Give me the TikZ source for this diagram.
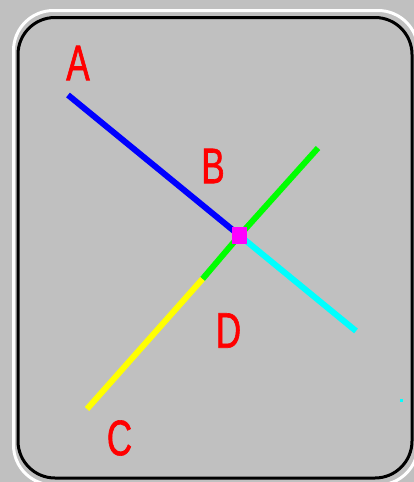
\documentclass[tikz,border=0pt]{standalone}
\usepackage{fontspec}
\usepackage{xcolor}
\usepackage{tikz}
\usetikzlibrary{positioning}
\newfontfamily\lblfont[FakeStretch=0.7,FakeBold=1.2]{Liberation Sans}
\definecolor{winGray}{HTML}{C0C0C0}
\definecolor{winBlue}{HTML}{0000FF}
\definecolor{winCyan}{HTML}{00FFFF}
\definecolor{winGreen}{HTML}{00FF00}
\definecolor{winYellow}{HTML}{FFFF00}
\definecolor{winRed}{HTML}{FF0000}
\definecolor{winMagenta}{HTML}{FF00FF}
\tikzset{
  ptlabel/.style={text=winRed,inner sep=0pt,font=\lblfont\fontsize{50}{50}\selectfont},
  seg/.style={line width=6pt,line cap=butt}
}

\begin{document}
\begin{tikzpicture}[x=1pt,y=-1pt,line width=3pt]
    \fill[winGray] (0,0) rectangle (414,482);
    \useasboundingbox (0,0) rectangle (414,482);
    \draw[white,rounded corners=40pt] (13.5,10.5) rectangle (418,485);
    \draw[black,rounded corners=37pt] (18,17.5) rectangle (412,478);
    % end points
    \coordinate (blueEnd) at (68,95);
    \coordinate (cyanEnd) at (356,331);
    \coordinate (greenEnd) at (318,148);
    \coordinate (midGY) at (202.5,279);
    \coordinate (yellowEnd) at (87,409);
    \coordinate (hub) at (239.5,235.5);
    \draw[seg,winBlue] (blueEnd) -- (hub);
    \draw[seg,winCyan] (hub) -- (cyanEnd);
    \draw[seg,winGreen] (greenEnd) -- (hub) -- (midGY);
    \draw[seg,winYellow] (midGY) -- (yellowEnd);
    \node[fill=winMagenta,inner sep=0pt,minimum width=15pt,minimum height=17pt] (hubBox) at (hub) {};
    \fill[winCyan] (400,398.5) rectangle (403,401.5);
    % labels
    \node[ptlabel] (labA) at (78,63) {A};
    \node[ptlabel] (labB) at (213,166) {B};
    \node[ptlabel] (labC) at (119.5,438) {C};
    \node[ptlabel] (labD) at (228.5,330.5) {D};
  \end{tikzpicture}
\end{document}
